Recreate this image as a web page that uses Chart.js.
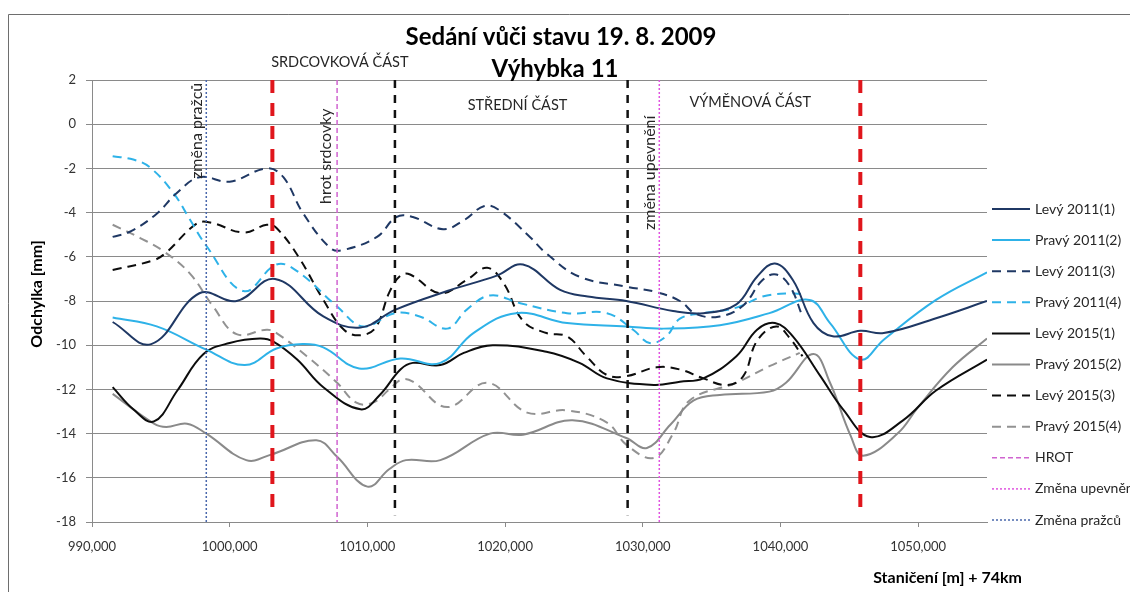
<!DOCTYPE html>
<html lang="cs">
<head>
  <meta charset="UTF-8" />
  <title>Sedání vůči stavu 19. 8. 2009</title>
  <script src="https://cdn.jsdelivr.net/npm/chart.js"></script>
  <style>
    body { margin: 0; padding: 0; background-color: #ffffff; }
    #obal { width: 1130px; height: 592px; }
  </style>
</head>
<body>
  <div id="obal"><canvas id="sedaniChart" width="1130" height="592"></canvas></div>

  <script>
    // === Data [staničení, odchylka] ===
    const levy2011a = [[991.5,-8.95],[994.3,-9.95],[997.8,-7.65],[1000.5,-8.0],[1003.3,-7.0],[1006.8,-8.7],[1009.5,-9.2],
      [1012.0,-8.4],[1015.8,-7.55],[1019.4,-6.85],[1021.3,-6.35],[1024.0,-7.5],[1026.0,-7.8],[1028.8,-8.0],[1032.2,-8.45],
      [1034.4,-8.55],[1036.8,-8.15],[1038.3,-6.9],[1039.6,-6.3],[1040.9,-7.05],[1042.4,-9.0],[1043.8,-9.6],[1045.8,-9.35],
      [1047.5,-9.45],[1051.3,-8.78],[1055.0,-8.0]];
    const pravy2011a = [[991.5,-8.75],[994.7,-9.15],[998.3,-10.2],[1001.1,-10.9],[1003.4,-10.15],[1005.3,-9.95],[1006.8,-10.1],
      [1009.4,-11.05],[1012.4,-10.6],[1015.3,-10.8],[1017.7,-9.45],[1020.8,-8.55],[1024.5,-9.0],[1028.8,-9.15],[1031.5,-9.25],
      [1035.6,-9.1],[1039.2,-8.55],[1042.1,-7.95],[1043.6,-9.0],[1045.8,-10.65],[1047.5,-9.75],[1051.3,-7.95],[1055.0,-6.7]];
    const levy2011b = [[991.5,-5.1],[992.8,-4.85],[994.7,-4.05],[996.1,-3.15],[997.8,-2.4],[1000.0,-2.6],[1002.7,-2.0],
      [1003.9,-2.4],[1005.3,-4.0],[1007.3,-5.6],[1008.2,-5.7],[1010.7,-5.1],[1012.1,-4.2],[1013.3,-4.2],[1015.5,-4.75],
      [1017.0,-4.35],[1018.5,-3.7],[1019.6,-3.9],[1021.8,-5.1],[1023.0,-5.85],[1025.4,-6.9],[1028.8,-7.35],[1031.0,-7.6],
      [1032.7,-8.0],[1033.9,-8.6],[1035.6,-8.7],[1037.3,-8.2],[1038.7,-7.05],[1039.7,-6.8],[1040.7,-7.35],[1041.6,-8.7]];
    const pravy2011b = [[991.5,-1.45],[993.0,-1.6],[994.2,-1.95],[995.9,-3.1],[997.1,-4.3],[998.3,-5.5],[1001.0,-7.55],
      [1003.4,-6.35],[1004.9,-6.65],[1007.8,-8.25],[1009.7,-9.15],[1012.0,-8.55],[1013.8,-8.7],[1015.8,-9.25],[1017.2,-8.4],
      [1018.9,-7.75],[1021.1,-8.1],[1024.5,-8.55],[1027.4,-8.55],[1029.3,-9.3],[1030.5,-9.9],[1031.7,-9.6],[1032.7,-8.8],
      [1034.4,-8.55],[1036.8,-8.3],[1038.7,-7.8],[1040.7,-7.65],[1041.6,-7.7]];
    const levy2015a = [[991.5,-11.9],[993.0,-12.9],[994.5,-13.45],[996.2,-12.05],[998.1,-10.4],[1000.0,-9.9],[1002.2,-9.7],
      [1003.2,-9.85],[1004.9,-10.65],[1006.8,-11.9],[1009.5,-12.9],[1010.9,-12.25],[1012.4,-11.1],[1013.3,-10.8],[1015.3,-10.9],
      [1017.0,-10.35],[1019.1,-10.0],[1023.0,-10.3],[1025.4,-10.8],[1027.4,-11.5],[1030.8,-11.8],[1032.7,-11.65],[1034.4,-11.5],
      [1036.8,-10.5],[1038.3,-9.3],[1039.6,-9.0],[1040.9,-9.6],[1042.9,-11.4],[1044.6,-12.95],[1046.5,-14.15],[1048.9,-13.4],
      [1051.3,-12.05],[1055.0,-10.65]];
    const pravy2015a = [[991.5,-12.2],[994.5,-13.55],[995.4,-13.7],[996.9,-13.55],[998.3,-14.0],[1001.2,-15.2],[1003.0,-14.95],
      [1006.3,-14.3],[1007.8,-15.05],[1010.0,-16.4],[1011.6,-15.6],[1012.8,-15.2],[1015.3,-15.2],[1018.9,-14.0],[1021.3,-14.05],
      [1024.9,-13.4],[1028.8,-14.2],[1030.3,-14.65],[1032.0,-13.6],[1033.7,-12.5],[1035.6,-12.25],[1039.2,-12.1],[1040.4,-11.7],
      [1042.4,-10.4],[1043.6,-11.7],[1045.1,-14.1],[1046.0,-15.0],[1048.5,-14.0],[1050.0,-12.8],[1052.5,-11.0],[1055.0,-9.7]];
    const levy2015b = [[991.5,-6.6],[994.5,-6.15],[995.4,-5.8],[997.6,-4.5],[998.6,-4.45],[1001.0,-4.9],[1002.7,-4.55],
      [1003.4,-4.7],[1005.0,-6.0],[1006.8,-7.95],[1008.3,-9.3],[1009.5,-9.55],[1010.6,-9.2],[1011.6,-7.6],[1012.4,-6.85],
      [1013.1,-6.8],[1015.3,-7.65],[1017.2,-7.05],[1018.7,-6.5],[1019.9,-7.2],[1021.3,-8.9],[1023.0,-9.45],[1024.5,-9.6],
      [1025.9,-10.5],[1027.4,-11.35],[1028.8,-11.4],[1031.0,-11.0],[1032.7,-11.1],[1034.4,-11.5],[1036.1,-11.8],[1037.3,-11.4],
      [1038.3,-9.8],[1039.7,-9.15],[1040.7,-9.7],[1041.6,-10.5]];
    const pravy2015b = [[991.5,-4.55],[993.5,-5.15],[995.2,-5.75],[997.1,-6.75],[998.8,-8.25],[1000.5,-9.5],[1002.7,-9.3],
      [1003.4,-9.45],[1005.6,-10.5],[1007.8,-11.7],[1009.2,-12.6],[1010.4,-12.6],[1011.6,-12.0],[1012.5,-11.55],[1013.3,-11.65],
      [1015.8,-12.8],[1018.7,-11.7],[1021.6,-13.05],[1024.5,-12.95],[1027.4,-13.5],[1028.8,-14.5],[1030.8,-15.1],[1032.2,-14.0],
      [1033.4,-12.5],[1036.8,-11.7],[1039.2,-10.95],[1041.4,-10.35]];

    // svislé čáry (staničení)
    const konceVyhybky = [1003.1, 1045.8];
    const hraniceCasti = [1012.0, 1028.9];
    const hrotSrdcovky = 1007.8;
    const zmenaUpevneni = 1031.2;
    const zmenaPrazcu = 998.3;

    // popisky v grafu [text, staničení, odchylka, svisle]
    const popisky = [
      ['SRDCOVKOVÁ ČÁST', 1008.0, 2.8, false],
      ['STŘEDNÍ ČÁST', 1020.9, 0.85, false],
      ['VÝMĚNOVÁ ČÁST', 1037.8, 1.0, false],
      ['změna pražců', 997.6, -0.3, true],
      ['hrot srdcovky', 1007.0, -1.45, true],
      ['změna upevnění', 1030.5, -2.2, true]
    ];

    const NAVY = '#1F3864', CYAN = '#2EB2E8', CERNA = '#0D0D0D', SEDA = '#8A8A8A';
    const PISMO = "Lato, 'Open Sans', sans-serif";

    const body = arr => arr.map(p => ({ x: p[0], y: p[1] }));
    const svisla = (x, horni, dolni) => [{ x: x, y: horni }, { x: x, y: dolni }];

    const rada = (label, data, barva, carkovana) => ({
      label, data: body(data), borderColor: barva, backgroundColor: barva,
      borderWidth: 2, borderDash: carkovana ? [9, 6] : [], tension: 0.4, vLegende: true
    });

    const datasets = [
      rada('Levý 2011(1)', levy2011a, NAVY, false),
      rada('Pravý 2011(2)', pravy2011a, CYAN, false),
      rada('Levý 2011(3)', levy2011b, NAVY, true),
      rada('Pravý 2011(4)', pravy2011b, CYAN, true),
      rada('Levý 2015(1)', levy2015a, CERNA, false),
      rada('Pravý 2015(2)', pravy2015a, SEDA, false),
      rada('Levý 2015(3)', levy2015b, CERNA, true),
      rada('Pravý 2015(4)', pravy2015b, '#929292', true),
      { label: 'HROT', data: svisla(hrotSrdcovky, 2, -18), borderColor: '#D064D0', borderWidth: 1.5,
        borderDash: [5, 3], tension: 0, vLegende: true, order: -1 },
      { label: 'Změna upevnění', data: svisla(zmenaUpevneni, 2, -18), borderColor: '#E055E0', borderWidth: 1.5,
        borderDash: [2, 2], tension: 0, vLegende: true, order: -1 },
      { label: 'Změna pražců', data: svisla(zmenaPrazcu, 2, -18), borderColor: '#4A68AC', borderWidth: 1.5,
        borderDash: [2, 2], tension: 0, vLegende: true, order: -1 }
    ];
    konceVyhybky.forEach(x => datasets.push({ label: 'konec', data: svisla(x, 2, -17.6), borderColor: '#E0161C',
      borderWidth: 4, borderDash: [13, 10], tension: 0, vLegende: false, order: -2 }));
    hraniceCasti.forEach(x => datasets.push({ label: 'hranice', data: svisla(x, 2, -17.7), borderColor: '#111111',
      borderWidth: 2.5, borderDash: [8, 7], tension: 0, vLegende: false, order: -2 }));

    // titulky, popisky, legenda a rámeček
    const kresleni = {
      id: 'kresleni',
      beforeDraw(chart) {
        const c = chart.ctx;
        c.save();
        c.fillStyle = '#ffffff';
        c.fillRect(0, 0, chart.width, chart.height);
        c.strokeStyle = '#6e6e6e';
        c.lineWidth = 1;
        c.beginPath();
        c.moveTo(8.5, chart.height); c.lineTo(8.5, 14.5); c.lineTo(chart.width, 14.5);
        c.stroke();
        c.restore();
      },
      afterDraw(chart) {
        const c = chart.ctx;
        const sx = chart.scales.x, sy = chart.scales.y;
        c.save();
        c.textAlign = 'center';
        c.textBaseline = 'middle';
        c.fillStyle = '#000000';
        c.font = 'bold 24px ' + PISMO;
        c.fillText('Sedání vůči stavu 19. 8. 2009', 561, 37);
        c.font = 'bold 24px ' + PISMO;
        c.fillText('Výhybka 11', 555, 69);

        c.fillStyle = '#262626';
        popisky.forEach(([text, x, y, svisle]) => {
          const px = sx.getPixelForValue(x), py = sy.getPixelForValue(y);
          c.save();
          c.translate(px, py);
          if (svisle) c.rotate(-Math.PI / 2);
          c.font = (svisle ? '16px ' : '14.5px ') + PISMO;
          c.fillText(text, 0, 0);
          c.restore();
        });

        // osy
        c.fillStyle = '#000000';
        c.font = 'bold 16px ' + PISMO;
        c.save();
        c.translate(37, 294);
        c.rotate(-Math.PI / 2);
        c.fillText('Odchylka [mm]', 0, 0);
        c.restore();
        c.textAlign = 'right';
        c.fillText('Staničení [m] + 74km', 1022, 578);

        // legenda
        c.textAlign = 'left';
        c.font = '14px ' + PISMO;
        let y = 209;
        chart.data.datasets.filter(d => d.vLegende).forEach(d => {
          c.strokeStyle = d.borderColor;
          c.lineWidth = d.borderWidth;
          c.setLineDash(d.borderDash || []);
          c.beginPath();
          c.moveTo(992, y); c.lineTo(1030, y);
          c.stroke();
          c.setLineDash([]);
          c.fillStyle = '#262626';
          c.fillText(d.label, 1035, y);
          y += 31.1;
        });
        c.restore();
      }
    };

    const ctx = document.getElementById('sedaniChart').getContext('2d');
    new Chart(ctx, {
      type: 'scatter',
      data: { datasets },
      options: {
        responsive: false,
        animation: false,
        showLine: true,
        elements: { point: { radius: 0, hoverRadius: 0 }, line: { fill: false } },
        layout: { padding: { top: 80, right: 143, bottom: 0, left: 0 } },
        plugins: { legend: { display: false }, title: { display: false }, tooltip: { enabled: false } },
        scales: {
          x: {
            type: 'linear', min: 990, max: 1055,
            afterBuildTicks: s => { s.ticks = s.ticks.filter(t => t.value % 10 === 0); },
            afterFit: s => { s.height = 70; },
            ticks: {
              stepSize: 10, padding: 12, color: '#333333', font: { family: PISMO, size: 13 },
              callback: v => v.toFixed(3).replace('.', ',')
            },
            grid: { display: true, drawOnChartArea: false, drawTicks: true, tickLength: 5, color: '#8a8a8a' },
            border: { color: '#8a8a8a' }
          },
          y: {
            min: -18, max: 2,
            afterFit: s => { s.width = 92; },
            ticks: { stepSize: 2, padding: 10, color: '#333333', font: { family: PISMO, size: 13 } },
            grid: { color: '#8a8a8a', tickLength: 6 },
            border: { color: '#8a8a8a' }
          }
        }
      },
      plugins: [kresleni]
    });
  </script>
</body>
</html>
